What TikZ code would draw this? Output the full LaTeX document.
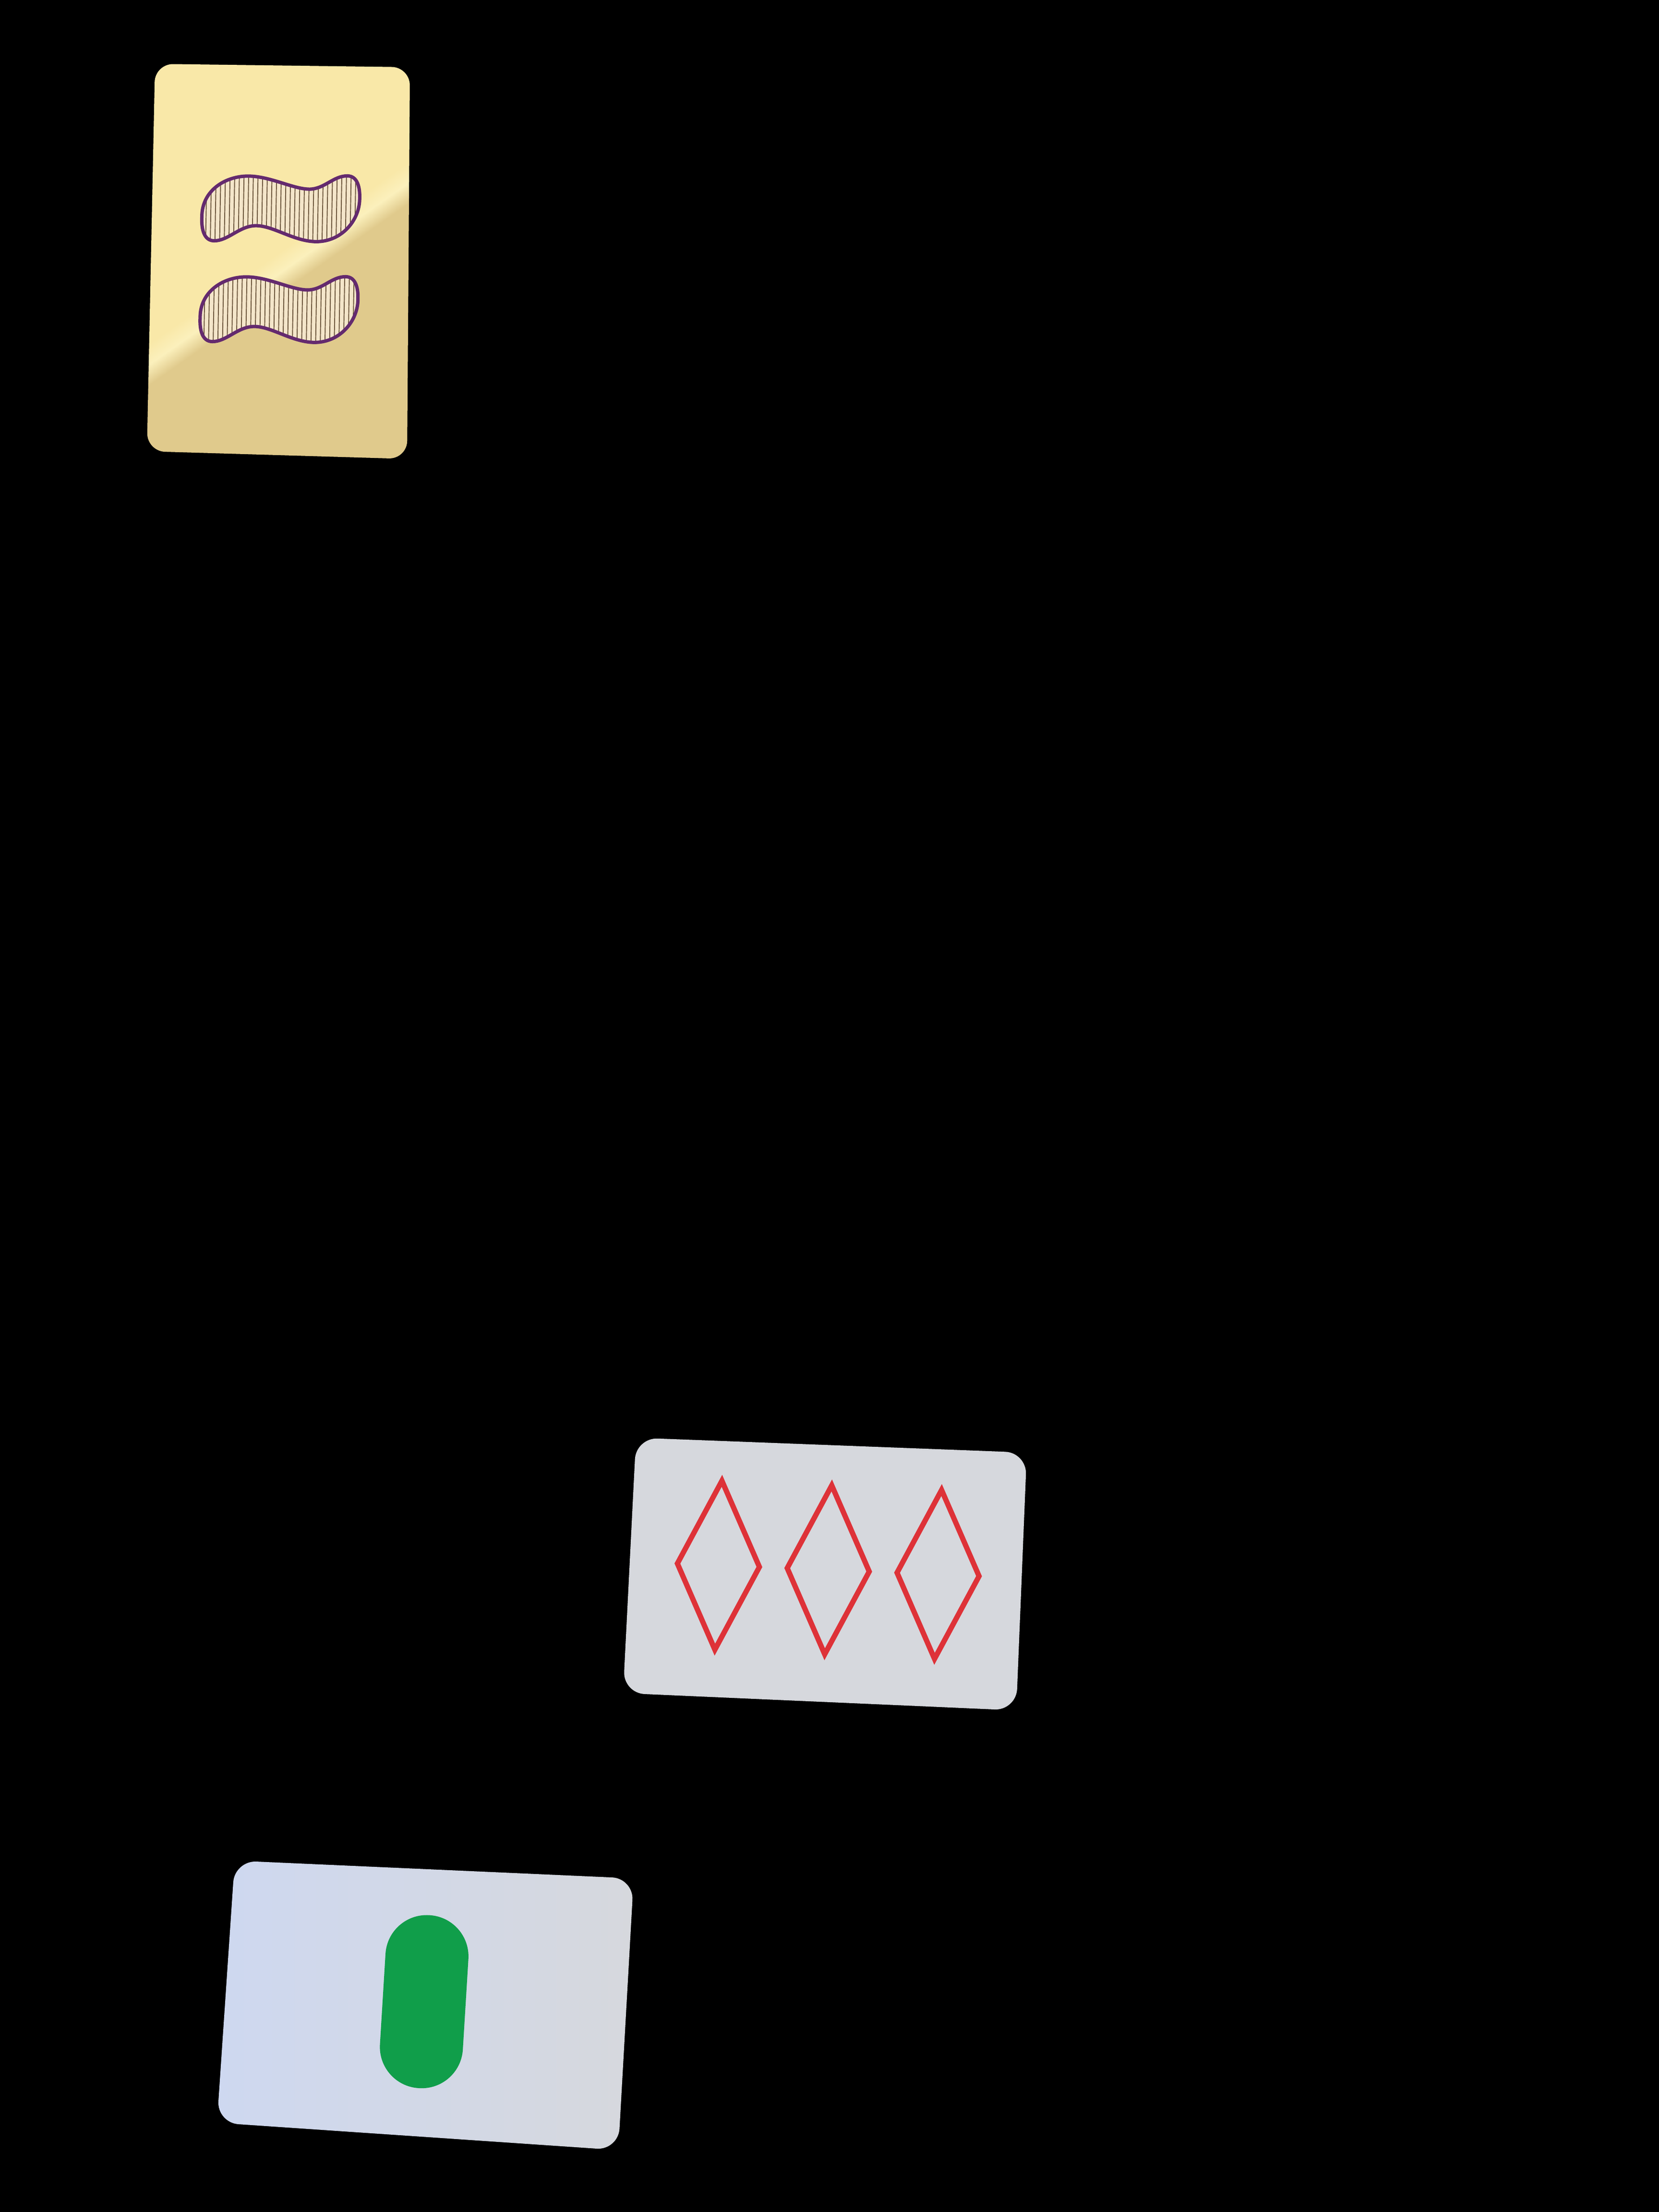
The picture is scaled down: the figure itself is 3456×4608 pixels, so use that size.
\documentclass[tikz,border=0pt]{standalone}
\usepackage{xcolor}
\usepackage{tikz}
\usetikzlibrary{calc}
\definecolor{goldpale}{RGB}{249,232,168}
\definecolor{goldlight}{RGB}{251,240,188}
\definecolor{goldshade}{RGB}{224,202,140}
\definecolor{cardgrey}{RGB}{214,216,221}
\definecolor{cardblue}{RGB}{206,216,240}
\definecolor{setpurple}{RGB}{100,42,110}
\definecolor{hatchbrown}{RGB}{110,88,62}
\definecolor{stripefill}{RGB}{244,230,202}
\definecolor{setred}{RGB}{222,50,56}
\definecolor{setgreen}{RGB}{16,158,74}
\pgfdeclarehorizontalshading{glare}{100bp}{color(0bp)=(goldpale); color(49bp)=(goldpale); color(51.5bp)=(goldlight); color(54bp)=(goldshade); color(100bp)=(goldshade)}
\tikzstyle{card} = [rounded corners=4.5mm]
\tikzstyle{squig} = [draw=setpurple, line width=2pt, line join=round]
\tikzstyle{hatch} = [hatchbrown, line width=0.55pt]
\tikzstyle{diamondline} = [draw=setred, line width=3.1pt, line join=miter]
\newcommand{\squiggle}{(-164,20) .. controls (-165,-35) and (-115,-67) .. (-65,-66) .. controls (-20,-65) and (25,-41) .. (58,-41) .. controls (90,-41) and (108,-70) .. (138,-70) .. controls (158,-70) and (165,-48) .. (164,-20) .. controls (163,25) and (125,70) .. (70,68) .. controls (25,66) and (-15,37) .. (-50,37) .. controls (-85,37) and (-108,70) .. (-138,70) .. controls (-158,70) and (-165,48) .. (-164,20) -- cycle}
\begin{document}
\begin{tikzpicture}[x=0.1mm, y=-0.1mm]
\fill[black] (0,0) rectangle (3456,4608);

\coordinate (a1) at (323,133);
\coordinate (a2) at (854,140);
\coordinate (a3) at (848,956);
\coordinate (a4) at (306,940);
\coordinate (b1) at (1325,2995);
\coordinate (b2) at (2139,3026);
\coordinate (b3) at (2117,3563);
\coordinate (b4) at (1298,3527);
\coordinate (c1) at (489,3876);
\coordinate (c2) at (1320,3913);
\coordinate (c3) at (1288,4479);
\coordinate (c4) at (452,4422);

\shade[card, rounded corners=3.8mm, shading=glare, shading angle=-55] (a1) -- (a2) -- (a3) -- (a4) -- cycle;
\fill[card, cardgrey] (b1) -- (b2) -- (b3) -- (b4) -- cycle;
\shade[card, left color=cardblue, right color=cardgrey] (c1) -- (c2) -- (c3) -- (c4) -- cycle;

\begin{scope}[shift={(583,542)}, rotate=-1]
\foreach \sy in {-108,102} {
  \begin{scope}[yshift=-\sy*0.1mm]
  \fill[stripefill] \squiggle;
  \begin{scope}
  \clip \squiggle;
  \foreach \hx in {-165,-155.3,...,166}
    \draw[hatch] (\hx,-80) -- (\hx,80);
  \end{scope}
  \draw[squig] \squiggle;
  \end{scope}
}
\end{scope}

\begin{scope}[shift={(1720,3278)}, rotate=-2.4]
\foreach \dx in {-224,5,234}
  \draw[diamondline] (\dx,-184) -- (\dx+85.5,-8) -- (\dx,168) -- (\dx-85.5,-8) -- cycle;
\end{scope}

\begin{scope}[shift={(887,4172)}, rotate=-3.5]
\fill[setgreen, rounded corners=8.6mm] (-90,-182.5) rectangle (83,178.5);
\end{scope}
\end{tikzpicture}
\end{document}
